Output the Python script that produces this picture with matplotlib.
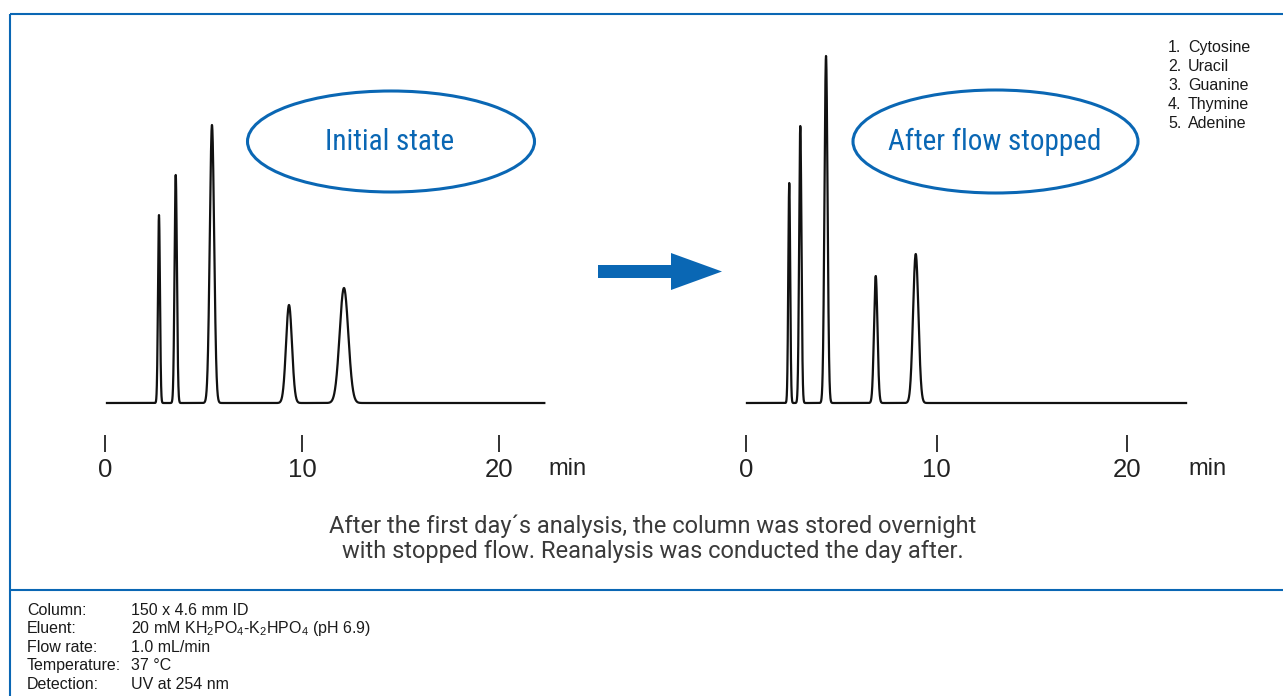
import numpy as np
import matplotlib
matplotlib.use('Agg')
import matplotlib.pyplot as plt
from matplotlib.patches import Ellipse, FancyArrow

# Peak table for the initial run (retention time in min, response, sigma in min)
rt_initial = [2.74, 3.59, 5.43, 9.34, 12.13]
height_initial = [188, 228, 278, 98, 115]
sigma_initial = [0.05, 0.06, 0.11, 0.15, 0.22]
range_initial = [0.1, 22.3]

# Peak table after the column was stored with stopped flow
rt_stopped = [2.27, 2.85, 4.20, 6.81, 8.91]
height_stopped = [220, 277, 347, 127, 149]
sigma_stopped = [0.05, 0.06, 0.08, 0.09, 0.14]
range_stopped = [0.05, 23.1]

compounds = ['Cytosine', 'Uracil', 'Guanine', 'Thymine', 'Adenine']
time_ticks = [0, 10, 20]

cond_labels = ['Column:', 'Eluent:', 'Flow rate:', 'Temperature:', 'Detection:']
cond_values = ['150 x 4.6 mm ID',
               r'20 mM KH$_\mathregular{2}$PO$_\mathregular{4}$-K$_\mathregular{2}$HPO$_\mathregular{4}$ (pH 6.9)',
               '1.0 mL/min', '37 °C', 'UV at 254 nm']

caption = ['After the first day\u00b4s analysis, the column was stored overnight',
           'with stopped flow. Reanalysis was conducted the day after.']

BLUE = '#0a67b4'
W, H = 1283, 696
fig = plt.figure(figsize=(W / 100, H / 100), dpi=100)
fig.patch.set_facecolor('white')

# background canvas in pixel units for frame, arrow and labels
bg = fig.add_axes([0, 0, 1, 1])
bg.set_xlim(0, W)
bg.set_ylim(H, 0)
bg.axis('off')

bg.plot([10, W], [14, 14], color=BLUE, lw=1.5, solid_capstyle='butt')
bg.plot([10, 10], [14, H], color=BLUE, lw=1.5, solid_capstyle='butt')
bg.plot([10, W], [590, 590], color=BLUE, lw=1.5, solid_capstyle='butt')


def chromatogram(t, rts, heights, sigmas):
    y = np.zeros_like(t)
    for r, h, s in zip(rts, heights, sigmas):
        y += h * np.exp(-0.5 * ((t - r) / s) ** 2)
    return y


def add_panel(px_left, px_right, px_zero, px_per_min, rts, heights, sigmas, trange, min_x):
    top, bottom, base = 40, 452, 403
    ax = fig.add_axes([px_left / W, (H - bottom) / H, (px_right - px_left) / W, (bottom - top) / H])
    ax.patch.set_alpha(0)
    ax.set_xlim((px_left - px_zero) / px_per_min, (px_right - px_zero) / px_per_min)
    ax.set_ylim(-(bottom - base), base - top)
    t = np.linspace(trange[0], trange[1], 6000)
    ax.plot(t, chromatogram(t, rts, heights, sigmas), color='#111111', lw=1.6)
    for s in ax.spines.values():
        s.set_visible(False)
    ax.set_yticks([])
    ax.set_xticks(time_ticks)
    ax.set_xticklabels([str(v) for v in time_ticks])
    ax.tick_params(axis='x', direction='in', length=12, width=1.3, color='#222222',
                   pad=4, labelsize=18.5, labelcolor='#222222')
    for lab in ax.get_xticklabels():
        lab.set_family('Liberation Sans')
    ax.annotate('min', xy=(min_x, 0), xycoords=('data', 'axes fraction'),
                xytext=(0, -4), textcoords='offset points', ha='center', va='top',
                fontsize=17, family='Liberation Sans', color='#222222')
    return ax


add_panel(85, 605, 105, 19.7, rt_initial, height_initial, sigma_initial, range_initial, 23.5)
add_panel(726, 1250, 746, 19.05, rt_stopped, height_stopped, sigma_stopped, range_stopped, 24.25)

# state labels
cond_font = ['Liberation Sans Narrow', 'Roboto Condensed', 'Roboto']
bg.add_patch(Ellipse((391, 141.5), 287, 101, fill=False, ec=BLUE, lw=2.2))
bg.text(390, 142, 'Initial state', ha='center', va='center', fontsize=21,
        family=cond_font, fontweight='normal', color=BLUE)
bg.add_patch(Ellipse((995.5, 141.5), 285, 103, fill=False, ec=BLUE, lw=2.2))
bg.text(995, 142, 'After flow stopped', ha='center', va='center', fontsize=21,
        family=cond_font, fontweight='normal', color=BLUE)

bg.add_patch(FancyArrow(598, 271.5, 124, 0, width=13, head_width=37, head_length=51,
                        length_includes_head=True, color=BLUE, lw=0))

# peak assignment
for i, name in enumerate(compounds):
    y = 52 + i * 19
    bg.text(1168, y, f'{i + 1}.', ha='left', va='baseline', fontsize=11.5,
            family='Liberation Sans', color='#1a1a1a')
    bg.text(1188, y, name, ha='left', va='baseline', fontsize=11.5,
            family='Liberation Sans', color='#1a1a1a')

# caption
for i, line in enumerate(caption):
    bg.text(653, 533 + i * 25, line, ha='center', va='baseline', fontsize=17,
            family='Roboto', fontweight='normal', color='#3a3a3a')

# conditions
for i, (lab, val) in enumerate(zip(cond_labels, cond_values)):
    y = 615 + i * 18.4
    bg.text(27, y, lab, ha='left', va='baseline', fontsize=11.5,
            family='Liberation Sans', color='#1a1a1a')
    bg.text(131, y, val, ha='left', va='baseline', fontsize=11.5,
            family='Liberation Sans', color='#1a1a1a')

fig.savefig('out.png', dpi=100)
